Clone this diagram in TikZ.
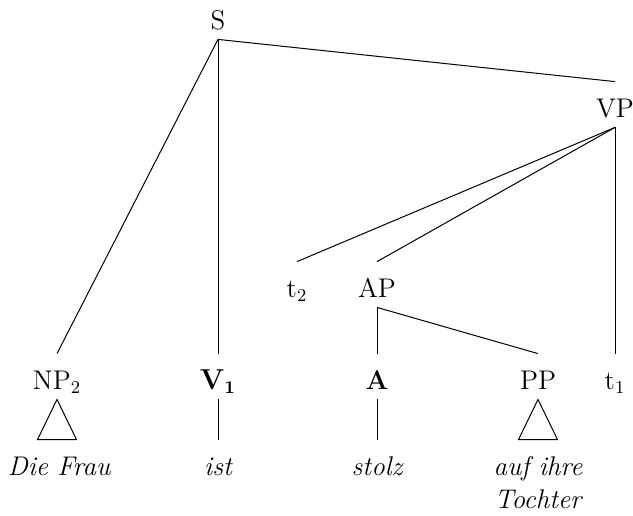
\documentclass[tikz,border=0pt]{standalone}
\begin{document}
\begin{tikzpicture}[x=0.5pt,y=-0.5pt,
  font=\fontsize{13.5}{16}\selectfont,
  lab/.style={inner sep=0pt,text height=17.5pt,text depth=5pt,anchor=base},
  edge/.style={draw=black,line width=0.5pt}]
\useasboundingbox (0,0) rectangle (633,515);
% labels
\node[lab] (S)  at (218,29) {S};
\node[lab] (VP) at (615,117) {VP};
\node[lab] (t2) at (297,297) {t$_2$};
\node[lab] (AP) at (377,297) {AP};
\node[lab] (NP) at (57,389) {NP$_2$};
\node[lab] (V)  at (218,389) {$\mathbf{V_1}$};
\node[lab] (A)  at (377,389) {\textbf{A}};
\node[lab] (PP) at (538,389) {PP};
\node[lab] (t1) at (615,389) {t$_1$};
\node[lab] (w1) at (59,475) {\itshape Die Frau};
\node[lab] (w2) at (218,475) {\itshape ist};
\node[lab] (w3) at (377,475) {\itshape stolz};
\node[lab] (w4) at (538,475) {\itshape auf ihre};
\node[lab] (w5) at (538,508) {\itshape Tochter};
% branches
\draw[edge] (S.south) -- (VP.north);
\draw[edge] (S.south) -- (NP.north);
\draw[edge] (S.south) -- (V.north);
\draw[edge] (VP.south) -- (t2.north);
\draw[edge] (VP.south) -- (AP.north);
\draw[edge] (VP.south) -- (t1.north);
\draw[edge] (AP.south) -- (A.north);
\draw[edge] (AP.south) -- (PP.north);
\draw[edge] (V.south) -- (w2.north);
\draw[edge] (A.south) -- (w3.north);
\draw[edge] (NP.south) -- ([xshift=-9.75pt]w1.north -| NP.south) -- ([xshift=9.75pt]w1.north -| NP.south) -- cycle;
\draw[edge] (PP.south) -- ([xshift=-9.75pt]w4.north -| PP.south) -- ([xshift=9.75pt]w4.north -| PP.south) -- cycle;
\end{tikzpicture}
\end{document}
